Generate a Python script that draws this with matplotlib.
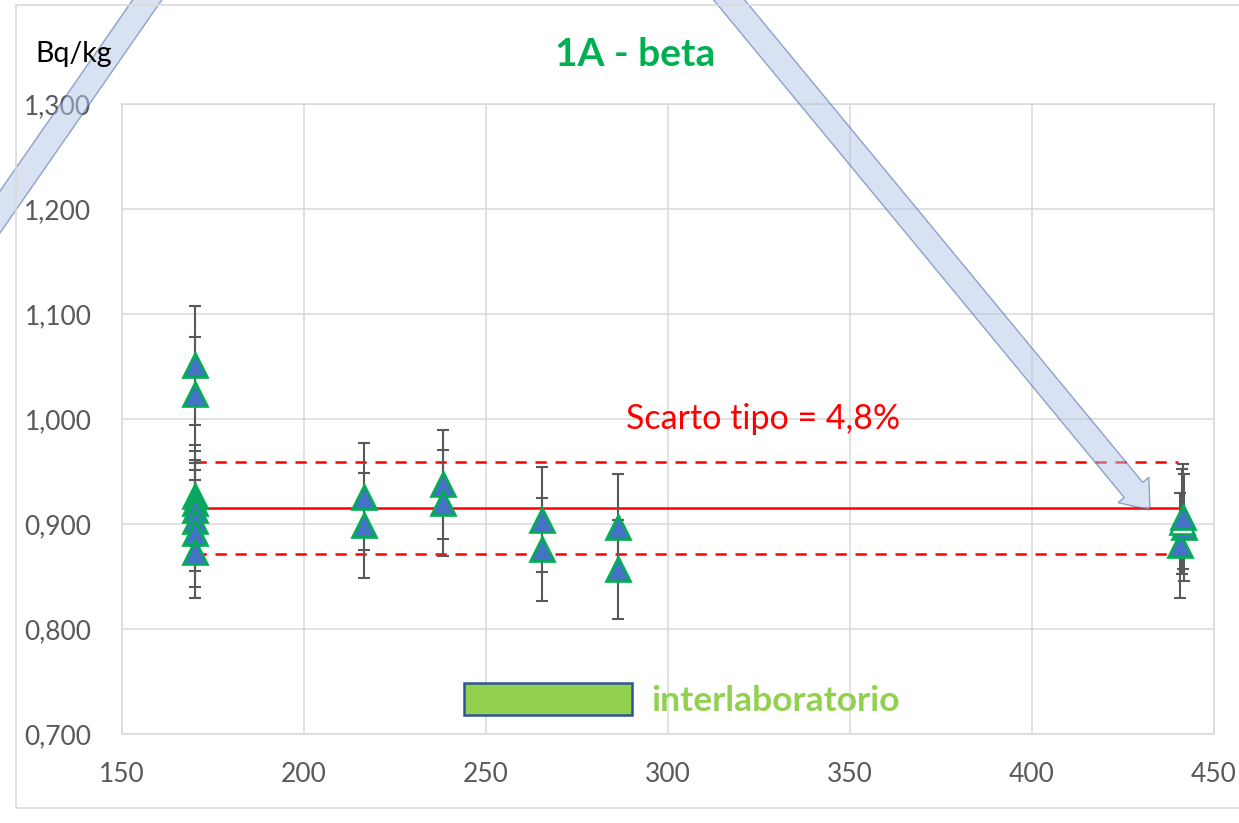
import matplotlib
matplotlib.use("Agg")
import matplotlib.pyplot as plt
from matplotlib.patches import Patch, Rectangle, FancyArrow
from matplotlib.ticker import FuncFormatter

plt.rcParams['font.family'] = ['Lato', 'DejaVu Sans']

# Valori misurati (Bq/kg) e incertezze, per laboratorio / data
x_170 = [170, 170, 170, 170, 170, 170, 170, 170]
y_170 = [1.051, 1.024, 0.927, 0.920, 0.913, 0.903, 0.891, 0.873]
e_170 = [0.057, 0.054, 0.048, 0.041, 0.045, 0.048, 0.051, 0.043]

x_mid = [216.4, 216.4, 238.3, 238.3, 265.3, 265.3, 286.3, 286.3]
y_mid = [0.926, 0.899, 0.938, 0.920, 0.904, 0.876, 0.897, 0.857]
e_mid = [0.051, 0.050, 0.052, 0.050, 0.050, 0.049, 0.051, 0.047]

x_441 = [440.6, 441.8, 441.2, 441.5]
y_441 = [0.880, 0.897, 0.902, 0.907]
e_441 = [0.050, 0.051, 0.050, 0.050]
hollow_441 = [False, False, True, False]

# Media e scarto tipo
ref_x = [170, 440]
media = 0.915
scarto = 0.048

x_ticks = [150, 200, 250, 300, 350, 400, 450]
y_ticks = [0.7, 0.8, 0.9, 1.0, 1.1, 1.2, 1.3]

W, H = 1239, 823
fig = plt.figure(figsize=(W / 100, H / 100), dpi=100)
ax = fig.add_axes([122 / W, (H - 734) / H, 1092 / W, 630 / H])

grid_c = '#D9D9D9'
ax.set_xlim(150, 450)
ax.set_ylim(0.7, 1.3)
ax.set_xticks(x_ticks)
ax.set_yticks(y_ticks)
ax.grid(True, color=grid_c, linewidth=1.1, zorder=0)
for s in ax.spines.values():
    s.set_color(grid_c)
    s.set_linewidth(1.1)
ax.tick_params(length=0, labelsize=19, labelcolor='#595959')
ax.tick_params(axis='y', pad=22)
ax.tick_params(axis='x', pad=20)
ax.yaxis.set_major_formatter(FuncFormatter(lambda v, p: f"{v:.3f}".replace('.', ',')))

# linee rosse: media e +/- scarto tipo
ax.plot(ref_x, [media, media], color='#FF0000', lw=1.8, zorder=2)
for k in (1 + scarto, 1 - scarto):
    ax.plot(ref_x, [media * k, media * k], color='#FF0000', lw=1.8,
            dashes=(4.5, 3.5), zorder=2)

def punti(xs, ys, es, face='#4472C4'):
    ax.errorbar(xs, ys, yerr=es, fmt='none', ecolor='#595959', elinewidth=1.5,
                capsize=4.3, capthick=1.5, zorder=3)
    ax.plot(xs, ys, linestyle='none', marker='^', markersize=17,
            markerfacecolor=face, markeredgecolor='#00B050',
            markeredgewidth=1.9, zorder=4)

punti(x_170, y_170, e_170)
punti(x_mid, y_mid, e_mid)
for xx, yy, ee, hol in zip(x_441, y_441, e_441, hollow_441):
    punti([xx], [yy], [ee], face='white' if hol else '#4472C4')

ax.text(288.5, 1.0, 'Scarto tipo = 4,8%', color='#FF0000', fontsize=24.5,
        ha='left', va='center', zorder=5)

leg = ax.legend(handles=[Patch(facecolor='#92D050', edgecolor='#2F5597', linewidth=1.8)],
                labels=['interlaboratorio'], loc='center',
                bbox_to_anchor=(0.513, 0.054), frameon=False, borderpad=0,
                handlelength=4.75, handleheight=1.0, handletextpad=0.54,
                prop={'weight': 'bold', 'size': 25.5})
for t in leg.get_texts():
    t.set_color('#92D050')

fig.text(635 / W, 1 - 54 / H, '1A - beta', color='#00B050', fontsize=28,
         fontweight='bold', ha='center', va='center')
fig.text(35 / W, 1 - 54 / H, 'Bq/kg', color='black', fontsize=20.5,
         ha='left', va='center')

# bordo del grafico
fig.patches.append(Rectangle((16 / W, (H - 808) / H), 1.2, (808 - 5) / H,
                             transform=fig.transFigure, fill=False,
                             edgecolor=grid_c, linewidth=1.2))

# frecce decorative
ov = fig.add_axes([0, 0, 1, 1])
ov.set_xlim(0, W)
ov.set_ylim(H, 0)
ov.axis('off')
ov.patch.set_alpha(0)
arr_kw = dict(facecolor='#B4C7E7', alpha=0.5, edgecolor='#2F5597', linewidth=1.0,
              length_includes_head=True)
ov.add_patch(FancyArrow(716, -16, 1150 - 716, 510 + 16, width=24,
                        head_width=40, head_length=26, **arr_kw))
ov.add_patch(FancyArrow(168, -30, -268, 386, width=24,
                        head_width=40, head_length=26, **arr_kw))

fig.savefig('out.png', dpi=100)
